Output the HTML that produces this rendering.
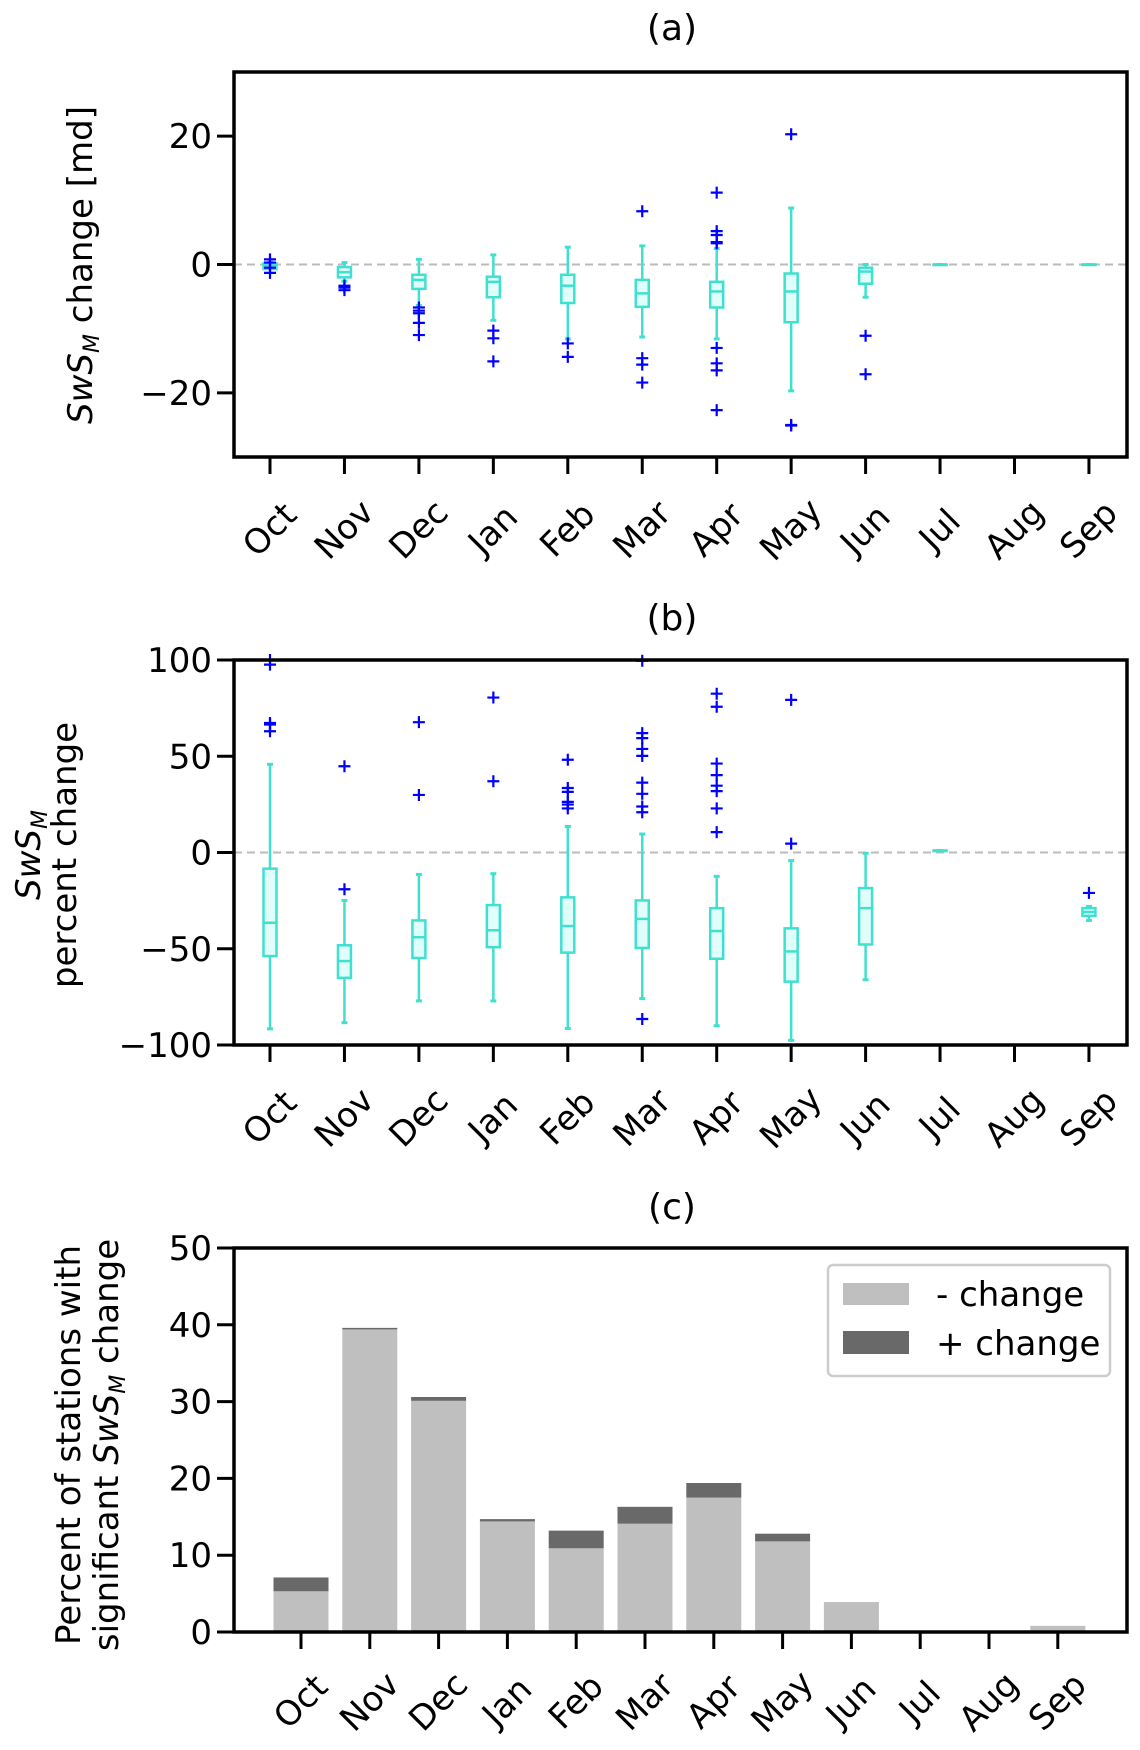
<!DOCTYPE html>
<html><head><meta charset="utf-8"><style>
body{margin:0;background:#fff}
svg{display:block;font-family:"DejaVu Sans","Liberation Sans",sans-serif}
</style></head><body>
<svg id="fig" width="1140" height="1750" viewBox="0 0 1140 1750" xmlns="http://www.w3.org/2000/svg"></svg>
<script>
const months=["Oct","Nov","Dec","Jan","Feb","Mar","Apr","May","Jun","Jul","Aug","Sep"];
const aStats=[[-0.5,-0.7,-0.2,0.2,0.3],[-2.6,-2.0,-1.2,-0.4,0.3],[-6.4,-3.8,-2.4,-1.6,0.8],[-8.7,-5.1,-2.7,-1.9,1.5],[-11.6,-6.0,-3.3,-1.6,2.7],[-11.3,-6.6,-4.5,-2.4,2.9],[-11.6,-6.7,-4.2,-2.7,2.5],[-19.7,-9.0,-4.2,-1.4,8.8],[-5.1,-3.0,-1.1,-0.5,0],[0,0,0,0,0],null,[0,0,0,0,0]];
const aOut=[[0.8,-0.5,-1.3,0.3],[-3.3,-3.6,-4.0],[-6.7,-7.2,-7.6,-9.1,-11],[-10.3,-11.5,-15.1],[-12.3,-14.4],[8.3,-14.6,-15.6,-18.4],[11.2,5.2,4.6,3.5,3.3,-13,-15.4,-16.5,-22.7],[20.3,-25,-25.1],[-11.1,-17.1],[],[],[]];
const bStats=[[-91.6,-53.8,-36.5,-8.4,45.8],[-88.4,-65.1,-56.4,-48.2,-24.9],[-77.1,-54.8,-44,-35.3,-11.4],[-77.1,-49.2,-40.4,-27.3,-11],[-91.4,-52,-38.2,-23.3,13.5],[-75.9,-49.6,-34.5,-24.9,9.6],[-90,-55.2,-40.8,-28.9,-12.4],[-97.6,-67.1,-51.4,-39.4,-4.2],[-66.1,-47.8,-28.9,-18.5,-0.4],[1,1,1,1,1],null,[-35.3,-32.9,-30.9,-28.9,-28]];
const bOut=[[97.6,100,67.3,66.5,63],[44.8,-19.1],[67.7,29.9],[80.5,37],[48.2,33.5,31.5,26.3,24.9,22.9],[-86.5,99.6,62,59.4,53.8,50.2,36.3,30.5,23.9,20.9],[10.6,22.9,31.9,34.7,40.2,46.2,75.7,82.5],[79.3,4.6],[],[],[],[-21]];
const negChange=[5.3,39.4,30.1,14.4,10.9,14.1,17.5,11.8,3.9,0,0,0.8];
const posChange=[1.8,0.2,0.5,0.3,2.3,2.2,1.9,1.0,0,0,0,0];
const aTicks=[-20,0,20], bTicks=[-100,-50,0,50,100], cTicks=[0,10,20,30,40,50];

const NS="http://www.w3.org/2000/svg";
const svg=document.getElementById('fig');
const FS=34;
function el(tag,attrs,parent,text){const e=document.createElementNS(NS,tag);for(const k in attrs)e.setAttribute(k,attrs[k]);if(text!==undefined)e.textContent=text;(parent||svg).appendChild(e);return e;}

const L=234,R=1127;
function makeAxes(name,top,bot,ymin,ymax,x0,dx){
  const g=el('g',{});
  
  
  const y=v=>bot-(v-ymin)/(ymax-ymin)*(bot-top);
  const x=i=>x0+i*dx;
  return {g,y,x,top,bot};
}
function frame(ax,ticks,labelY){
  const g=ax.g;
  ticks.forEach(t=>{
    const ln=el('line',{x1:L-17,x2:L,y1:ax.y(t),y2:ax.y(t),stroke:'#000','stroke-width':3},g);
    
    
    const tx=el('text',{x:L-22,y:ax.y(t)+12,'text-anchor':'end','font-size':FS},g,t<0?'\u2212'+(-t):String(t));
    
    
  });
  months.forEach((m,i)=>{
    const ln=el('line',{x1:ax.x(i),x2:ax.x(i),y1:ax.bot,y2:ax.bot+17,stroke:'#000','stroke-width':3},g);
    
    
    const tx=el('text',{x:0,y:0,'text-anchor':'middle','font-size':FS,transform:`translate(${ax.x(i)},${labelY}) rotate(-45) translate(0,11)`},g,m);
    
    
  });
  const r=el('rect',{x:L,y:ax.top,width:R-L,height:ax.bot-ax.top,fill:'none',stroke:'#000','stroke-width':3.5},g);
  
  
}
function boxes(ax,stats,outs){
  const g=ax.g;
  const z=el('line',{x1:L,x2:R,y1:ax.y(0),y2:ax.y(0),stroke:'#bbbbbb','stroke-width':2,'stroke-dasharray':'8,5'},g);
  
  
  stats.forEach((s,i)=>{
    if(!s)return;
    const cx=ax.x(i),bw=13,cw=6,c='#40e0d0';
    const bg=el('g',{},g);
    
    
    el('line',{x1:cx,x2:cx,y1:ax.y(s[0]),y2:ax.y(s[1]),stroke:c,'stroke-width':2.5},bg);
    el('line',{x1:cx,x2:cx,y1:ax.y(s[3]),y2:ax.y(s[4]),stroke:c,'stroke-width':2.5},bg);
    el('line',{x1:cx-cw/2,x2:cx+cw/2,y1:ax.y(s[0]),y2:ax.y(s[0]),stroke:c,'stroke-width':3},bg);
    el('line',{x1:cx-cw/2,x2:cx+cw/2,y1:ax.y(s[4]),y2:ax.y(s[4]),stroke:c,'stroke-width':3},bg);
    el('rect',{x:cx-bw/2,y:ax.y(s[3]),width:bw,height:Math.max(0.5,ax.y(s[1])-ax.y(s[3])),fill:'#e0fffb',stroke:c,'stroke-width':2.5},bg);
    el('line',{x1:cx-bw/2,x2:cx+bw/2,y1:ax.y(s[2]),y2:ax.y(s[2]),stroke:c,'stroke-width':2.5},bg);
  });
  outs.forEach((o,i)=>o.forEach(v=>{
    const cx=ax.x(i),cy=ax.y(v);
    if(cy<ax.top-2||cy>ax.bot+2)return;
    const p=el('path',{d:`M${cx-6} ${cy}H${cx+6}M${cx} ${cy-6}V${cy+6}`,stroke:'#0000ff','stroke-width':2.2,fill:'none'},g);
    
    
  }));
}
function title(t,y){const e=el('text',{x:672,y:y,'text-anchor':'middle','font-size':36},svg,t);}
function sws(parent){el('tspan',{'font-style':'italic'},parent,'SwS');el('tspan',{'font-style':'italic','font-size':22,dy:7},parent,'M');}

// Panel a
title('(a)',40);
const A=makeAxes('panel-a',72,457,-30,30,270,74.45);
boxes(A,aStats,aOut);frame(A,aTicks,530);
let t=el('text',{transform:'translate(92,265) rotate(-90)','text-anchor':'middle','font-size':FS});

sws(t);el('tspan',{dy:-7},t,' change [md]');

// Panel b
title('(b)',630);
const B=makeAxes('panel-b',660,1045,-100,100,270,74.45);
boxes(B,bStats,bOut);frame(B,bTicks,1118);
t=el('text',{transform:'translate(40,855) rotate(-90)','text-anchor':'middle','font-size':FS});

sws(t);
t=el('text',{transform:'translate(76,855) rotate(-90)','text-anchor':'middle','font-size':FS},svg,'percent change');


// Panel c
title('(c)',1219);
const C=makeAxes('panel-c',1248,1632,0,50,301,68.8);
negChange.forEach((v,i)=>{
  const w=55,x=C.x(i)-w/2;
  if(v>0){const r=el('rect',{x:x,y:C.y(v),width:w,height:C.y(0)-C.y(v),fill:'#bfbfbf'},C.g);
  }
  const p=posChange[i];
  if(p>0){const r=el('rect',{x:x,y:C.y(v+p),width:w,height:C.y(v)-C.y(v+p),fill:'#696969'},C.g);
  }
});
frame(C,cTicks,1702);
t=el('text',{transform:'translate(80,1445) rotate(-90)','text-anchor':'middle','font-size':FS},svg,'Percent of stations with');

t=el('text',{transform:'translate(118,1445) rotate(-90)','text-anchor':'middle','font-size':FS},svg,'significant ');

sws(t);el('tspan',{dy:-7},t,' change');
// legend
const lg=el('g',{});

el('rect',{x:828,y:1265,width:282,height:111,rx:5,fill:'#fff',stroke:'#cccccc','stroke-width':2.5},lg);
el('rect',{x:843,y:1283,width:66,height:22,fill:'#bfbfbf'},lg);
el('rect',{x:843,y:1331,width:66,height:23,fill:'#696969'},lg);
el('text',{x:936,y:1306,'font-size':FS},lg,'- change');
el('text',{x:936,y:1355,'font-size':FS},lg,'+ change');
</script>
</body></html>
